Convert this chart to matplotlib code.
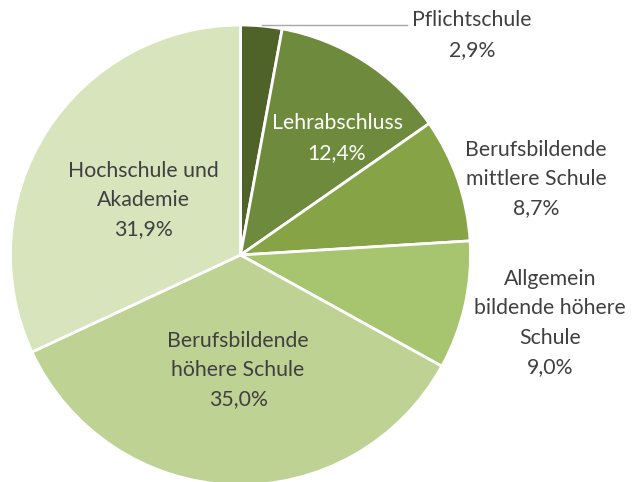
import matplotlib
matplotlib.use("Agg")
from matplotlib import pyplot as plt

labels = ["Pflichtschule", "Lehrabschluss", "Berufsbildende\nmittlere Schule",
          "Allgemein\nbildende höhere\nSchule", "Berufsbildende\nhöhere Schule",
          "Hochschule und\nAkademie"]
werte = [2.9, 12.4, 8.7, 9.0, 35.0, 31.9]
farben = ["#4f6228", "#6e8b3d", "#86a445", "#a7c46e", "#bed293", "#d8e4bc"]

# label positions in pixels (x, y from top)
pos = [(472, 35), (337, 138), (536, 179), (550, 323), (238, 370), (143, 200)]
textfarben = ["#404040", "white", "#404040", "#404040", "#404040", "#404040"]

W, H = 633, 482
fig = plt.figure(figsize=(W / 100, H / 100), dpi=100)
ax = fig.add_axes([0, 0, 1, 1])

cx, cy, r = 240.5, H - 255, 230
ax.pie(werte, colors=farben, startangle=90, counterclock=False,
       center=(cx, cy), radius=r,
       wedgeprops=dict(edgecolor="white", linewidth=2))

for lab, w, (x, y), c in zip(labels, werte, pos, textfarben):
    txt = lab + "\n" + ("%.1f" % w).replace(".", ",") + "%"
    ax.text(x, H - y, txt, ha="center", va="center", color=c,
            fontsize=15.3, family="Lato", linespacing=1.58)

# leader line for Pflichtschule
ax.plot([262, 407], [H - 25, H - 25], color="#a6a6a6", lw=1)

ax.set_xlim(0, W)
ax.set_ylim(0, H)
ax.set_aspect("auto")
ax.axis("off")
fig.savefig("out.png", dpi=100)
